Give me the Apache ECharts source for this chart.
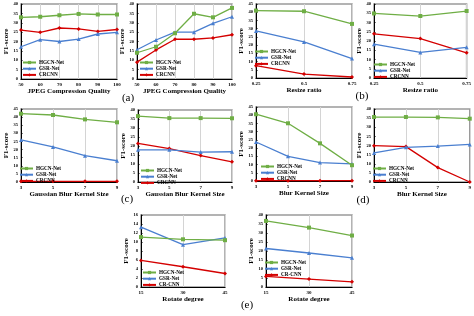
<!DOCTYPE html>
<html><head><meta charset="utf-8">
<script src="https://cdn.jsdelivr.net/npm/echarts@6/dist/echarts.min.js"></script>
<style>html,body{margin:0;padding:0;background:#fff}#c{width:474px;height:316px}</style>
</head><body><div id="c"></div><script>
const jpegCats = ['50','60','70','80','90','100'];
const resizeCats = ['0.25','0.5','0.75'];
const kernelCats = ['3','5','7','9'];
const rotateCats = ['15','30','45'];

const jpegA_hgcn = [32.9,33.2,34.0,34.7,34.4,34.4];
const jpegA_gsr  = [17.2,21.0,20.0,21.3,24.0,24.9];
const jpegA_cr   = [26.1,24.9,27.2,26.7,25.4,26.4];
const jpegB_hgcn = [14.0,17.2,24.4,34.8,32.9,37.9];
const jpegB_gsr  = [15.6,20.8,25.0,25.0,29.7,33.2];
const jpegB_cr   = [9.0,15.5,21.2,21.2,21.9,23.6];
const resizeA_hgcn = [41.0,40.6,32.9];
const resizeA_gsr  = [28.6,21.9,11.8];
const resizeA_cr   = [7.5,2.4,0.6];
const resizeB_hgcn = [34.9,33.5,36.2];
const resizeB_gsr  = [18.3,13.8,16.6];
const resizeB_cr   = [23.9,21.3,13.6];
const gaussA_hgcn = [42.1,41.3,38.6,36.8];
const gaussA_gsr  = [25.9,21.6,16.2,13.1];
const gaussA_cr   = [0.4,0.4,0.4,0.4];
const gaussB_hgcn = [36.6,35.5,35.5,35.4];
const gaussB_gsr  = [17.9,17.9,16.6,16.8];
const gaussB_cr   = [21.4,18.6,14.7,11.2];
const blurA_hgcn = [40.6,35.1,22.9,9.6];
const blurA_gsr  = [23.7,15.0,11.2,10.4];
const blurA_cr   = [0.2,0.2,0.2,0.2];
const blurB_hgcn = [35.6,35.6,35.4,34.7];
const blurB_gsr  = [15.9,19.0,19.7,20.6];
const blurB_cr   = [19.9,19.4,7.9,0];
const rotA_hgcn = [11.1,10.6,10.4];
const rotA_gsr  = [13.3,9.4,10.9];
const rotA_cr   = [5.9,4.5,3.0];
const rotB_hgcn = [36.7,33.0,28.6];
const rotB_gsr  = [21.4,18.9,16.2];
const rotB_cr   = [5.9,4.4,2.9];

const names3 = ['HGCN-Net','GSR-Net','CRCNN'];
const namesRot = ['HGCN-Net','GSR-Net','CR-CNN'];
const subLabels = ['(a)','(b)','(c)','(d)','(e)'];

const panels = [
  {cats: jpegCats, d:[jpegA_hgcn,jpegA_gsr,jpegA_cr], n:names3, max:40, iv:5, xn:'JPEG Compression Quality'},
  {cats: jpegCats, d:[jpegB_hgcn,jpegB_gsr,jpegB_cr], n:names3, max:40, iv:5, xn:'JPEG Compression Quality'},
  {cats: resizeCats, d:[resizeA_hgcn,resizeA_gsr,resizeA_cr], n:names3, max:45, iv:5, xn:'Resize ratio'},
  {cats: resizeCats, d:[resizeB_hgcn,resizeB_gsr,resizeB_cr], n:names3, max:40, iv:5, xn:'Resize ratio'},
  {cats: kernelCats, d:[gaussA_hgcn,gaussA_gsr,gaussA_cr], n:names3, max:45, iv:5, xn:'Gaussian Blur Kernel Size'},
  {cats: kernelCats, d:[gaussB_hgcn,gaussB_gsr,gaussB_cr], n:names3, max:40, iv:5, xn:'Gaussian Blur Kernel Size'},
  {cats: kernelCats, d:[blurA_hgcn,blurA_gsr,blurA_cr], n:names3, max:45, iv:5, xn:'Blur Kernel Size'},
  {cats: kernelCats, d:[blurB_hgcn,blurB_gsr,blurB_cr], n:names3, max:40, iv:5, xn:'Blur Kernel Size'},
  {cats: rotateCats, d:[rotA_hgcn,rotA_gsr,rotA_cr], n:namesRot, max:16, iv:2, xn:'Rotate degree'},
  {cats: rotateCats, d:[rotB_hgcn,rotB_gsr,rotB_cr], n:namesRot, max:40, iv:5, xn:'Rotate degree'}
];
// layout (pixels)
const layout = [
  {l:21,t:4,w:96,h:75, yg:10, lx:22, ly:60},
  {l:137,t:4,w:95,h:75, yg:6, lx:139, ly:60},
  {l:256,t:4,w:96,h:74, yg:10, lx:254, ly:49},
  {l:374,t:4,w:98,h:74, yg:8, lx:373, ly:62},
  {l:21,t:109,w:96,h:73, yg:10, lx:19, ly:166},
  {l:138,t:110,w:94,h:72, yg:6, lx:140, ly:168},
  {l:256,t:107,w:96,h:74, yg:8, lx:260, ly:164},
  {l:374,t:109,w:98,h:73, yg:7, lx:372, ly:166},
  {l:141,t:215,w:84,h:72, yg:9, lx:142, ly:270},
  {l:266,t:215,w:86,h:72, yg:10, lx:264, ly:260}
];
const subPos = [[128,98],[362,96],[127,199],[363,200],[247,305]];

const colors = ['#6fae45','#4a7fd0','#d40000'];
const symbols = ['rect','triangle','diamond'];
const FONT = '"Liberation Serif", "DejaVu Serif", serif';

const grid = [], xAxis = [], yAxis = [], series = [], legend = [], graphic = [];
panels.forEach((p, i) => {
  const g = layout[i];
  grid.push({left:g.l, top:g.t, width:g.w, height:g.h, show:true, borderColor:'#9a9a9a', borderWidth:1.5, backgroundColor:'transparent'});
  xAxis.push({type:'category', gridIndex:i, data:p.cats, boundaryGap:false,
    name:p.xn, nameLocation:'middle', nameGap:9,
    nameTextStyle:{fontFamily:FONT, fontWeight:'bold', fontSize:7, color:'#000'},
    axisLine:{lineStyle:{color:'#000', width:1}},
    axisTick:{show:false},
    axisLabel:{fontFamily:FONT, fontWeight:'bold', fontSize:5, color:'#000', margin:3},
    splitLine:{show:true, lineStyle:{color:'#d4d4d4', width:1}}});
  yAxis.push({type:'value', gridIndex:i, min:0, max:p.max, interval:p.iv,
    name:'F1-score', nameLocation:'middle', nameGap:g.yg, nameRotate:90,
    nameTextStyle:{fontFamily:FONT, fontWeight:'bold', fontSize:7, color:'#000'},
    axisLine:{show:true, lineStyle:{color:'#000', width:1}},
    axisTick:{show:true, inside:true, length:1.5, lineStyle:{color:'#000'}},
    axisLabel:{fontFamily:FONT, fontWeight:'bold', fontSize:4.5, color:'#000', margin:3},
    splitLine:{show:false}});
  p.d.forEach((vals, k) => {
    series.push({type:'line', name:p.n[k], xAxisIndex:i, yAxisIndex:i, data:vals,
      symbol:symbols[k], symbolSize: 4, showSymbol:true,
      lineStyle:{color:colors[k], width:1.3}, itemStyle:{color:colors[k]},
      animation:false, z: 3 - k});
  });
  legend.push({orient:'vertical', left:g.lx, top:g.ly, data:p.n,
    itemWidth:13, itemHeight:4, itemGap:1.2, padding:0,
    textStyle:{fontFamily:FONT, fontWeight:'bold', fontSize:5.2, color:'#000', padding:[0,0,0,-2]},
    selectedMode:false});
});
subLabels.forEach((s, j) => {
  graphic.push({type:'text', x:subPos[j][0], y:subPos[j][1],
    style:{text:s, font:'11px "Liberation Serif", serif', fill:'#000', textAlign:'center', textVerticalAlign:'middle'}});
});

const chart = echarts.init(document.getElementById('c'), null, {renderer:'canvas'});
chart.setOption({animation:false, backgroundColor:'#fff', grid, xAxis, yAxis, series, legend, graphic});
</script></body></html>
